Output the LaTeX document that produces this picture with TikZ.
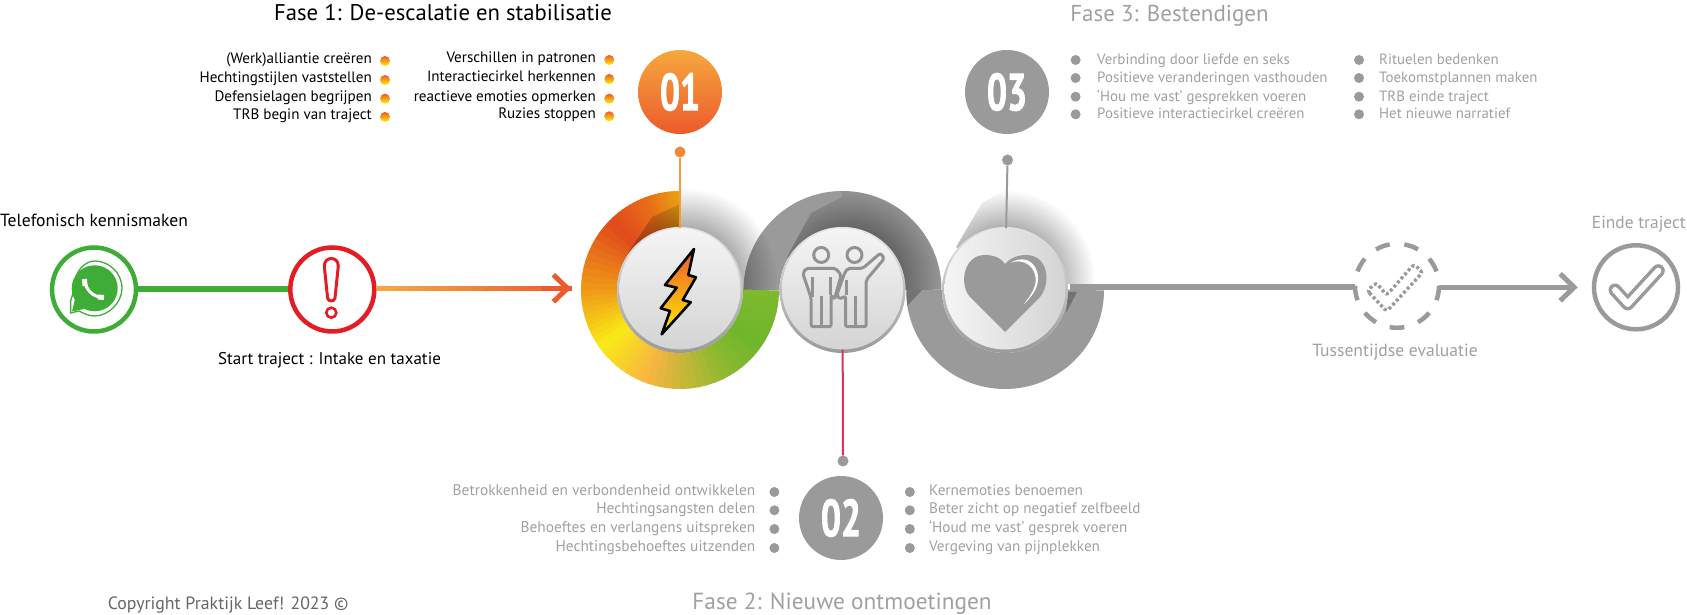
\documentclass[tikz,border=0pt]{standalone}
\usepackage{fontspec}
\setmainfont{PT Sans}
\newfontfamily\numfont[BoldFeatures={FakeBold=2}]{PT Sans}
\usetikzlibrary{calc}
\usetikzlibrary{fadings}
\usetikzlibrary{arrows.meta}
\usepackage{xcolor}
\definecolor{fadegray}{RGB}{154,154,154}
\definecolor{textgray}{RGB}{160,160,160}
\definecolor{flameA}{RGB}{246,168,62}
\definecolor{flameB}{RGB}{236,90,44}
\definecolor{chatgreen}{RGB}{64,172,56}
\definecolor{alarmred}{RGB}{230,28,36}
\definecolor{bandA}{RGB}{233,161,18}
\definecolor{bandB}{RGB}{233,108,25}
\definecolor{bandC}{RGB}{224,74,28}
\definecolor{bandD}{RGB}{240,154,24}
\definecolor{bandE}{RGB}{249,234,23}
\definecolor{bandF}{RGB}{247,181,65}
\definecolor{bandG}{RGB}{139,185,47}
\definecolor{bandH}{RGB}{111,182,44}
\definecolor{bandI}{RGB}{128,185,47}
\tikzfading[name=softshade, inner color=transparent!25, outer color=transparent!100]
\tikzset{
	itemblack/.style={inner sep=0pt, text=black, font=\fontsize{15.1}{15}\selectfont},
	itemgray/.style={inner sep=0pt, text=textgray, font=\fontsize{14.9}{15}\selectfont},
	itemlow/.style={inner sep=0pt, text=textgray, font=\fontsize{15.4}{15}\selectfont},
	heading/.style={inner sep=0pt, font=\fontsize{23}{23}\selectfont},
	flamedot/.style={circle, inner sep=0pt, minimum size=10pt, top color=flameB, bottom color=yellow!90!orange},
	graydot/.style={circle, inner sep=0pt, minimum size=10pt, fill=fadegray},
	numberdisc/.style={circle, inner sep=0pt, minimum size=84pt, text=white, font=\numfont\bfseries\fontsize{52}{52}\selectfont},
	rimdisc/.style={circle, inner sep=0pt, minimum size=126pt, shading=axis, top color=gray!20, bottom color=fadegray},
	facedisc/.style={circle, inner sep=0pt, minimum size=121pt, shading=axis, top color=black!4, bottom color=black!17, shading angle=#1},
	ringnode/.style={circle, inner sep=0pt, minimum size=84pt, line width=4.5pt, draw=#1, fill=white},
	gband/.style={line width=36pt, color=fadegray},
	iconline/.style={line width=3pt, color=fadegray!95!black, rounded corners=2pt, line join=round},
	barb/.style={-{Straight Barb[length=14pt,width=27pt,line width=5pt]}}
}

\begin{document}
\begin{tikzpicture}[x=1pt,y=1pt]
	\useasboundingbox (0,0) rectangle (1687,615);

	\draw[gband] (1005,325)+(180:81pt) arc[start angle=180, end angle=360, radius=81pt];
	\draw[gband] (842.5,325)+(180:81pt) arc[start angle=180, end angle=0, radius=81pt];

	\foreach \a/\b/\ca/\cb in {90/110/bandA/bandB, 110/135/bandB/bandC, 135/180/bandC/bandD, 180/215/bandD/bandE, 215/250/bandE/bandF, 250/300/bandF/bandG, 300/325/bandG/bandH, 325/360/bandH/bandI}{
		\foreach \t in {0,...,9}{
			\pgfmathsetmacro{\sa}{\a+(\b-\a)*\t/10}
			\pgfmathsetmacro{\sb}{min(\a+(\b-\a)*(\t+1)/10+1.5,360)}
			\pgfmathtruncatemacro{\p}{\t*10+5}
			\draw[line width=36pt, color=\cb!\p!\ca] (680,325)+(\sa:81pt) arc[start angle=\sa, end angle=\sb, radius=81pt];
		}
	}

	\begin{scope}
		\clip (628,362) -- (652,398) -- (680,411) -- (680,437) -- (790,437) -- (790,325) -- (680,325) -- cycle;
		\fill[black, path fading=softshade] (685,335) circle (92);
	\end{scope}
	\begin{scope}
		\clip (842.5,325) +(99,0) arc[start angle=0, end angle=180, radius=99pt] -- cycle;
		\clip (787,358) -- (811,402) -- (842,418) -- (842,437) -- (952,437) -- (952,325) -- (842.5,325) -- cycle;
		\fill[black, path fading=softshade] (849,335) circle (94);
	\end{scope}
	\begin{scope}
		\clip (956,368) -- (982,412) -- (1010,428) -- (1115,437) -- (1115,331) -- (1005,331) -- cycle;
		\fill[black, path fading=softshade] (1005,335) circle (90);
	\end{scope}
	\fill[black!55] (907,325) -- (922,325) -- (907,309) -- cycle;
	\fill[black!55] (1068,323) -- (1077,323) -- (1066,302) -- cycle;

	\node[rimdisc] (rim1) at (680,325) {};
	\node[rimdisc] (rim2) at (842.5,325) {};
	\node[rimdisc] (rim3) at (1005,325) {};
	\node[facedisc=0] (disc1) at (680,326) {};
	\node[facedisc=0] (disc2) at (842.5,326) {};
	\node[facedisc=90] (disc3) at (1005,326) {};

	\shadedraw[draw=black, line width=2.6pt, line join=round, top color=flameB, bottom color=yellow!85!orange] (694,366) -- (665,330) -- (676.7,327.3) -- (660.7,306.7) -- (670,304) -- (661.7,280.7) -- (690.7,312.7) -- (682.7,315) -- (696,337.7) -- (688.3,340) -- cycle;

	\draw[iconline] (811.2,316.7) -- (802.8,341.7) -- (806.2,346.7) -- (835.5,346.7) -- (841.2,340) -- (834.5,315.7) -- (831.2,320) -- (831.2,288.3) -- (811.2,288.3) -- cycle;
	\draw[iconline] (812.8,337.7) -- (812.8,317.7);
	\draw[iconline] (830.5,337.7) -- (830.5,320);
	\draw[iconline] (821.2,319) -- (821.2,289);
	\draw[iconline] (821.2,360) circle (7.5);
	\draw[iconline] (845.5,288.3) -- (845.5,319) -- (839.5,315.7) -- (836.8,320) -- (844.5,341.7) -- (847.8,346.7) -- (862.8,346.7) -- (880.2,361.7) -- (884.5,356.7) -- (866.2,335) -- (866.2,288.3) -- cycle;
	\draw[iconline] (846.8,335) -- (846.8,320);
	\draw[iconline] (855.5,319) -- (855.5,289);
	\draw[iconline] (854.5,360) circle (7.5);

	\begin{scope}[shift={(1005,325)}]
		\fill[fadegray] (0,-42) -- (-35,-7) .. controls (-46,5) and (-42,35) .. (-20,35) .. controls (-10,35) and (-3,31) .. (0,26) .. controls (4,31) and (12,35) .. (21,35) .. controls (44,35) and (46,6) .. (35,-7) -- cycle;
		\fill[white] (5.7,27.3) .. controls (15,33) and (30,33) .. (33,14) .. controls (34,4) and (28,-6) .. (19,-14) .. controls (26,-5) and (32,4) .. (30.5,13) .. controls (28,27) and (16,31) .. (5.7,27.3);
	\end{scope}

	\node[numberdisc, top color=flameA, bottom color=flameB] (bubble1) at (680,523) {\scalebox{.68}[1]{01}};
	\node[numberdisc, fill=fadegray] (bubble2) at (841,97) {\scalebox{.68}[1]{02}};
	\node[numberdisc, fill=fadegray] (bubble3) at (1007,523) {\scalebox{.68}[1]{03}};

	\node[circle, inner sep=0pt, minimum size=11pt, fill=flameA!60!flameB] (stem1) at (680,463) {};
	\node[graydot, minimum size=11pt] (stem2) at (843,154) {};
	\node[graydot, minimum size=11pt] (stem3) at (1007.5,455) {};
	\draw[line width=2pt, color=flameA!85!flameB] (stem1) -- (disc1);
	\draw[line width=2pt, color=purple!70!red!80!white] (disc2) -- (stem2);
	\draw[line width=2pt, color=fadegray] (stem3) -- (disc3);

	\node[heading, font=\fontsize{22.7}{23}\selectfont, text=black] (fase1) at (443,602.3) {Fase 1: De-escalatie en stabilisatie};
	\node[heading, font=\fontsize{23.3}{23}\selectfont, text=textgray] (fase2) at (842,11) {Fase 2: Nieuwe ontmoetingen};
	\node[heading, text=textgray] (fase3) at (1169.5,599.5) {Fase 3: Bestendigen};

	\foreach \y/\txt [count=\n] in {554/(Werk)alliantie creëren, 535/Hechtingstijlen vaststellen, 516.3/Defensielagen begrijpen, 498/TRB begin van traject}{
		\node[itemblack, anchor=mid east] (lefta\n) at (372,\y) {\txt};
		\node[flamedot] (ldota\n) at (385,\y) {};
	}
	\foreach \y/\txt [count=\n] in {555/Verschillen in patronen, 536/Interactiecirkel herkennen, 516.3/reactieve emoties opmerken, 498.7/Ruzies stoppen}{
		\node[itemblack, anchor=mid east] (leftb\n) at (596,\y) {\txt};
		\node[flamedot] (ldotb\n) at (609.3,\y) {};
	}
	\foreach \y/\txt [count=\n] in {553/Verbinding door liefde en seks, 535/Positieve veranderingen vasthouden, 516.3/‘Hou me vast’ gesprekken voeren, 498.7/Positieve interactiecirkel creëren}{
		\node[itemgray, anchor=mid west] (righta\n) at (1097,\y) {\txt};
		\node[graydot] (rdota\n) at (1075.6,\y+2) {};
	}
	\foreach \y/\txt [count=\n] in {553/Rituelen bedenken, 535/Toekomstplannen maken, 516.3/TRB einde traject, 498.7/Het nieuwe narratief}{
		\node[itemgray, anchor=mid west] (rightb\n) at (1379,\y) {\txt};
		\node[graydot] (rdotb\n) at (1359,\y+2) {};
	}
	\foreach \y/\txt [count=\n] in {122/Betrokkenheid en verbondenheid ontwikkelen, 103.7/Hechtingsangsten delen, 85/Behoeftes en verlangens uitspreken, 66/Hechtingsbehoeftes uitzenden}{
		\node[itemlow, anchor=mid east] (lowa\n) at (755.5,\y) {\txt};
		\node[graydot] (ldotc\n) at (774.4,\y+1) {};
	}
	\foreach \y/\txt [count=\n] in {122/Kernemoties benoemen, 103.7/Beter zicht op negatief zelfbeeld, 85/‘Houd me vast’ gesprek voeren, 66/Vergeving van pijnplekken}{
		\node[itemlow, font=\fontsize{15.2}{15}\selectfont, anchor=mid west] (lowb\n) at (929,\y) {\txt};
		\node[graydot] (rdotc\n) at (909.8,\y+1) {};
	}

	\node[ringnode=chatgreen] (phone) at (94,325.5) {};
	\node[ringnode=alarmred] (alarm) at (332.3,325.5) {};
	\draw[line width=6pt, color=chatgreen] (phone) -- (alarm);

	\coordinate (flametip) at (571,326.7);
	\foreach \s in {0,...,19}{
		\pgfmathtruncatemacro{\p}{\s*5}
		\pgfmathsetmacro{\tb}{(\s+1.1)/20}
		\draw[line width=5pt, color=flameB!\p!flameA] ($(alarm.east |- flametip)!\s/20!(flametip)$) -- ($(alarm.east |- flametip)!\tb!(flametip)$);
	}
	\draw[barb, line width=5pt, color=flameB] ($(flametip)+(-30,0)$) -- (flametip);

	\fill[chatgreen] (94.7,326.7) circle (23);
	\draw[chatgreen, line width=1.3pt, fill=none] (70.6,314) -- (75,328) .. controls (74,345) and (86,354) .. (94.7,354) .. controls (108,354) and (122,343) .. (122,326.7) .. controls (122,312) and (108,299) .. (94.7,299) .. controls (88,299) and (83,302) .. (79,304) -- (70.6,302) -- cycle;
	\fill[chatgreen] (72,303.5) -- (76,320) -- (84,306) -- cycle;
	\draw[white, line width=3pt] (85,335) .. controls (85.5,325) and (93,318) .. (103,317.5);
	\draw[white, line width=5pt] (84.5,336) -- (85,329);
	\draw[white, line width=5pt] (98,318) -- (104,317.5);

	\draw[alarmred, line width=3pt, line join=round] (324.3,349) .. controls (324.3,359) and (338.3,359) .. (338.3,349) -- (335,317) .. controls (334.6,313) and (328,313) .. (327.6,317) -- cycle;
	\draw[alarmred, line width=2.6pt] (331.3,302.3) circle (5);

	\node[circle, inner sep=0pt, minimum size=84pt] (evalring) at (1397,329.2) {};
	\foreach \a in {270,310,350,30,70,110,150,190,230}{
		\draw[line width=4.5pt, color=fadegray] (evalring.center)+(\a-10:42pt) arc[start angle=\a-10, end angle=\a+10, radius=42pt];
	}
	\draw[color=fadegray, line width=3.4pt, dash pattern=on 3pt off 2.4pt, rounded corners=3pt] (1367.3,324.3) -- (1386.7,303.6) -- (1422.7,342.7) -- (1413.9,350.7) -- (1386.7,319.8) -- (1376.1,332.3) -- cycle;

	\node[ringnode=fadegray] (finish) at (1636,327.7) {};
	\draw[line width=13pt, color=fadegray, line cap=round, line join=round] (1615,325) -- (1627.7,311) -- (1658.3,344.3);
	\draw[line width=6pt, color=white, line cap=round, line join=round] (1615,325) -- (1627.7,311) -- (1658.3,344.3);

	\coordinate (bandend) at (1070,328);
	\draw[line width=5.5pt, color=fadegray] (bandend) -- (bandend -| evalring.west);
	\draw[barb, line width=5.5pt, color=fadegray, shorten >=14pt] (evalring.east |- finish) -- (finish);

	\node[inner sep=0pt, text=black, font=\fontsize{17.6}{17}\selectfont, anchor=mid west] (belt) at (0,391) {Telefonisch kennismaken};
	\node[inner sep=0pt, text=black, font=\fontsize{17}{17}\selectfont] (start) at (329.5,255) {Start traject : Intake en taxatie};
	\node[inner sep=0pt, text=textgray, font=\fontsize{17.6}{17}\selectfont] (tussen) at (1395,263) {Tussentijdse evaluatie};
	\node[inner sep=0pt, text=textgray, font=\fontsize{17.4}{17}\selectfont, anchor=mid east] (einde) at (1686,389) {Einde traject};
	\node[inner sep=0pt, text=black!60, font=\fontsize{17.8}{17}\selectfont, anchor=mid west] (copyright) at (107.6,8.4) {Copyright Praktijk Leef! 2023 ©};
\end{tikzpicture}
\end{document}
